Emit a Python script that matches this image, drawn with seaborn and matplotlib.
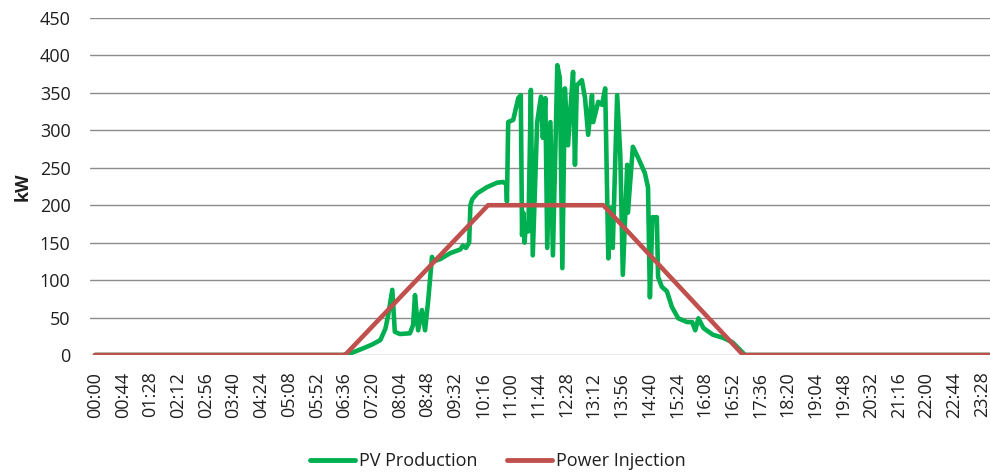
import matplotlib
matplotlib.use("Agg")
import matplotlib.pyplot as plt
import seaborn as sns
import pandas as pd

# PV production samples (time of day, kW)
pv_times = [
    "00:00", "06:34", "06:48", "07:06", "07:20", "07:33", "07:41", "07:45", "07:52", "07:56",
    "08:04", "08:20", "08:25", "08:28", "08:33", "08:39", "08:44", "08:49", "08:55", "08:57",
    "09:08", "09:24", "09:40", "09:44", "09:49", "09:54", "09:56", "09:59", "10:07", "10:22",
    "10:38", "10:48", "10:53", "10:54", "10:56", "11:04", "11:12", "11:16", "11:18", "11:20",
    "11:22", "11:24", "11:28", "11:32", "11:35", "11:42", "11:48", "11:51", "11:55", "11:58",
    "12:03", "12:07", "12:14", "12:18", "12:22", "12:26", "12:31", "12:35", "12:39", "12:42",
    "12:45", "12:53", "12:58", "13:03", "13:09", "13:11", "13:19", "13:25", "13:30", "13:35",
    "13:38", "13:42", "13:49", "13:54", "13:58", "14:05", "14:06", "14:14", "14:22", "14:33",
    "14:38", "14:41", "14:45", "14:52", "14:54", "15:00", "15:08", "15:16", "15:26", "15:40",
    "15:48", "15:53", "15:58", "16:06", "16:21", "16:37", "16:52", "17:04", "17:12", "23:59",
]
pv_kw = [
    0, 0, 3, 9, 14, 20, 35, 51, 87, 31,
    28, 29, 40, 80, 33, 60, 33, 73, 131, 125,
    128, 136, 141, 146, 143, 150, 200, 208, 216, 224,
    230, 231, 228, 205, 311, 314, 343, 347, 160, 190,
    150, 175, 165, 354, 133, 311, 345, 290, 343, 143,
    311, 133, 387, 370, 116, 356, 280, 330, 378, 254,
    360, 367, 343, 294, 347, 311, 338, 334, 356, 129,
    196, 143, 347, 267, 107, 254, 190, 278, 264, 243,
    224, 77, 184, 184, 104, 91, 85, 64, 49, 44,
    44, 33, 49, 36, 27, 23, 17, 7, 0, 0,
]

# Grid power injection limit profile (time of day, kW)
inj_times = ["00:00", "06:37", "10:24", "13:27", "17:09", "23:59"]
inj_kw = [0, 0, 200, 200, 0, 0]

# Category labels on the time axis, every 44 minutes
tick_labels = [f"{(m // 60):02d}:{(m % 60):02d}" for m in range(0, 1409, 44)]
y_ticks = [0, 50, 100, 150, 200, 250, 300, 350, 400, 450]


def to_minutes(labels):
    t = pd.to_datetime(pd.Series(labels), format="%H:%M")
    return (t.dt.hour * 60 + t.dt.minute).to_numpy()


pv = pd.DataFrame({"minute": to_minutes(pv_times), "kW": pv_kw})
inj = pd.DataFrame({"minute": to_minutes(inj_times), "kW": inj_kw})

sns.set_theme(style="white")
plt.rcParams["font.family"] = ["Open Sans", "DejaVu Sans"]

text_color = "#1f1f1f"
fig = plt.figure(figsize=(9.9, 4.72), dpi=100)
ax = fig.add_axes([90 / 990, 1 - 355 / 472, 900 / 990, (355 - 18) / 472])

green = "#00b050"
red = "#c0504d"
sns.lineplot(data=pv, x="minute", y="kW", ax=ax, color=green, linewidth=3.3,
             estimator=None, sort=False, label="PV Production", zorder=3)
sns.lineplot(data=inj, x="minute", y="kW", ax=ax, color=red, linewidth=3.3,
             estimator=None, sort=False, label="Power Injection", zorder=4)

ax.set_xlim(-8, 1421)
ax.set_ylim(0, 450)
ax.set_yticks(y_ticks)
ax.set_yticklabels([str(v) for v in y_ticks])
ax.set_xticks(list(range(0, 1409, 44)))
ax.set_xticklabels(tick_labels, rotation=90, va="top")
ax.tick_params(axis="both", length=0, labelsize=13, colors=text_color)
ax.tick_params(axis="y", pad=14)
ax.tick_params(axis="x", pad=12)

ax.grid(axis="y", color="#8c8c8c", linewidth=1.0)
ax.grid(axis="x", visible=False)
for s in ax.spines.values():
    s.set_visible(False)

ax.set_xlabel("")
ax.set_ylabel("kW", fontsize=13, fontweight="bold", color=text_color, labelpad=6)

ax.get_legend().remove()
handles, labels = ax.get_legend_handles_labels()
leg = fig.legend(handles, labels, loc="center", bbox_to_anchor=(498 / 990, 1 - 461 / 472),
                 ncol=2, frameon=False, fontsize=13, handlelength=2.5,
                 handletextpad=0.25, columnspacing=1.6)
for t in leg.get_texts():
    t.set_color(text_color)
for h in leg.get_lines():
    h.set_linewidth(3.5)

fig.savefig("out.png", dpi=100)
